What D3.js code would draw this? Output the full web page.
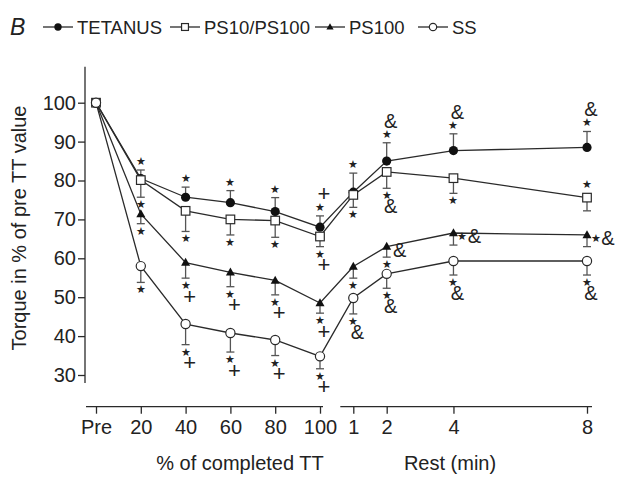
<!DOCTYPE html>
<html>
<head>
<meta charset="utf-8">
<script src="https://cdn.jsdelivr.net/npm/d3@7"></script>
<style>
  body { margin: 0; background: #fff; }
  svg { display: block; }
  text { font-family: "Liberation Sans", Arial, Helvetica, sans-serif; fill: #222; }
</style>
</head>
<body>
<svg id="chart" width="621" height="481"></svg>
<script>
// ---------------- data ----------------
const leftCats = ["Pre", "20", "40", "60", "80", "100"];
const leftVals = [0, 20, 40, 60, 80, 100];
const restCats = ["1", "2", "4", "8"];
const restVals = [1, 2, 4, 8];
const yTicks = [30, 40, 50, 60, 70, 80, 90, 100];

const seriesNames = ["TETANUS", "PS10/PS100", "PS100", "SS"];
const tetanus    = [100, 80.5, 75.7, 74.3, 72.0, 68.0, 77.0, 85.0, 87.7, 88.5];
const tetanusErr = [0, 2.2, 2.6, 3.1, 3.6, 2.9, 4.9, 4.7, 4.3, 4.1];
const ps10ps100    = [100, 80.1, 72.2, 70.0, 69.7, 65.6, 76.3, 82.2, 80.6, 75.6];
const ps10ps100Err = [0, 4.4, 5.3, 4.0, 4.3, 2.6, 3.2, 4.2, 3.9, 3.4];
const ps100    = [100, 71.4, 58.9, 56.4, 54.3, 48.5, 57.9, 63.0, 66.5, 66.0];
const ps100Err = [0, 2.5, 4.0, 3.7, 3.7, 2.6, 3.0, 2.7, 3.1, 3.0];
const ss    = [100, 58.0, 43.1, 40.8, 39.0, 34.8, 49.8, 56.0, 59.3, 59.3];
const ssErr = [0, 4.2, 5.3, 4.9, 4.0, 3.2, 4.1, 3.7, 3.6, 3.6];
const errDir = [1, -1, -1, -1]; // +1 = bar upward, -1 = bar downward

// significance marks: [series index, point index, side, symbols]
const marks = [
  [0,1,"up","*"],[0,2,"up","*"],[0,3,"up","*"],[0,4,"up","*"],[0,5,"up","*+"],
  [0,6,"up","*"],[0,7,"up","*&"],[0,8,"up","*&"],[0,9,"up","*&"],
  [1,1,"down","*"],[1,2,"down","*"],[1,3,"down","*"],[1,4,"down","*"],[1,5,"down","*+"],
  [1,6,"down","*"],[1,7,"down","*&"],[1,8,"down","*"],[1,9,"up","*"],
  [2,1,"down","*"],[2,2,"down","*+"],[2,3,"down","*+"],[2,4,"down","*+"],[2,5,"down","*+"],
  [2,6,"down","*"],[2,7,"down","*"],[2,7,"right","&"],[2,8,"right","*&"],[2,9,"right","*&"],
  [3,1,"down","*"],[3,2,"down","*+"],[3,3,"down","*+"],[3,4,"down","*+"],[3,5,"down","*+"],
  [3,6,"down","*&"],[3,7,"down","*&"],[3,8,"down","*&"],[3,9,"down","*&"]
];

// ---------------- chart ----------------
const svg = d3.select("#chart");
const ink = "#2a2a2a";
const barInk = "#555";

const xLeft = d3.scaleLinear().domain([0, 100]).range([96, 320]);
const xRest = d3.scaleLinear().domain([1, 8]).range([353.3, 587]);
const y = d3.scaleLinear().domain([30, 100]).range([375, 102.7]);

const xPos = i => i < leftVals.length ? xLeft(leftVals[i]) : xRest(restVals[i - leftVals.length]);

const values = [tetanus, ps10ps100, ps100, ss];
const errs = [tetanusErr, ps10ps100Err, ps100Err, ssErr];

// axes
const axisY = 406.7;
const yAx = svg.append("g").attr("transform", "translate(85,0)")
  .call(d3.axisLeft(y).tickValues(yTicks).tickSize(7).tickPadding(2));
yAx.select(".domain").remove();
svg.append("line").attr("x1", 85).attr("x2", 85)
  .attr("y1", y(100) - 36).attr("y2", y(30) + 8)
  .attr("stroke", ink).attr("stroke-width", 1.3);

const xAxL = svg.append("g").attr("transform", `translate(0,${axisY})`)
  .call(d3.axisBottom(xLeft).tickValues(leftVals).tickFormat((d, i) => leftCats[i]).tickSize(7).tickPadding(6));
const xAxR = svg.append("g").attr("transform", `translate(0,${axisY})`)
  .call(d3.axisBottom(xRest).tickValues(restVals).tickFormat((d, i) => restCats[i]).tickSize(7).tickPadding(6));
xAxL.select(".domain").remove();
xAxR.select(".domain").remove();
svg.append("line").attr("x1", xLeft(0) - 10).attr("x2", xLeft(100) + 3)
  .attr("y1", axisY).attr("y2", axisY).attr("stroke", ink).attr("stroke-width", 1.3);
svg.append("line").attr("x1", xRest(1) - 13).attr("x2", xRest(8) + 5)
  .attr("y1", axisY).attr("y2", axisY).attr("stroke", ink).attr("stroke-width", 1.3);

svg.selectAll(".tick line").attr("stroke", ink).attr("stroke-width", 1.3);
svg.selectAll(".tick text").attr("font-size", 20).attr("fill", "#222")
  .attr("font-family", '"Liberation Sans", Arial, sans-serif');

// axis titles
svg.append("text").attr("x", 240).attr("y", 470).attr("text-anchor", "middle")
  .attr("font-size", 20).text("% of completed TT");
svg.append("text").attr("x", 450).attr("y", 470).attr("text-anchor", "middle")
  .attr("font-size", 20).text("Rest (min)");
svg.append("text").attr("transform", "translate(26,228) rotate(-90)").attr("text-anchor", "middle")
  .attr("font-size", 20).text("Torque in % of pre TT value");

// lines
const line = d3.line().x((d, i) => xPos(i)).y(d => y(d));
values.forEach(v => {
  svg.append("path").attr("d", line(v)).attr("fill", "none")
    .attr("stroke", ink).attr("stroke-width", 1.3);
});

// error bars
values.forEach((v, s) => {
  v.forEach((d, i) => {
    const e = errs[s][i];
    if (!e) return;
    const x = xPos(i), y0 = y(d), y1 = y(d + errDir[s] * e);
    svg.append("line").attr("x1", x).attr("x2", x).attr("y1", y0).attr("y2", y1)
      .attr("stroke", barInk).attr("stroke-width", 1.3);
    svg.append("line").attr("x1", x - 4).attr("x2", x + 4).attr("y1", y1).attr("y2", y1)
      .attr("stroke", barInk).attr("stroke-width", 1.3);
  });
});

// markers
function marker(g, s, x, yy, scale) {
  const k = scale || 1;
  if (s === 0) {
    g.append("circle").attr("cx", x).attr("cy", yy).attr("r", 4.6 * k).attr("fill", "#111");
  } else if (s === 1) {
    g.append("rect").attr("x", x - 4.3 * k).attr("y", yy - 4.3 * k)
      .attr("width", 8.6 * k).attr("height", 8.6 * k)
      .attr("fill", "#fff").attr("stroke", ink).attr("stroke-width", 1.2);
  } else if (s === 2) {
    const h = 8 * k, w = 9 * k;
    g.append("path").attr("d", `M${x},${yy - h * 0.6}L${x + w / 2},${yy + h * 0.4}L${x - w / 2},${yy + h * 0.4}Z`)
      .attr("fill", "#111");
  } else {
    g.append("circle").attr("cx", x).attr("cy", yy).attr("r", 4.6 * k)
      .attr("fill", "#fff").attr("stroke", ink).attr("stroke-width", 1.2);
  }
}
const mg = svg.append("g");
values.forEach((v, s) => v.forEach((d, i) => marker(mg, s, xPos(i), y(d))));

// significance marks
function drawSym(ch, cx, cy) {
  if (ch === "*") {
    svg.append("text").attr("x", cx).attr("y", cy).attr("text-anchor", "middle")
      .attr("dominant-baseline", "central").attr("font-family", '"DejaVu Sans", sans-serif')
      .attr("font-size", 10.5).text("★");
  } else {
    svg.append("text").attr("x", cx).attr("y", cy).attr("text-anchor", "middle")
      .attr("dominant-baseline", "central").attr("font-size", ch === "+" ? 22 : 20).text(ch);
  }
}
marks.forEach(([s, i, side, syms]) => {
  const x = xPos(i);
  const v = values[s][i];
  const e = errs[s][i];
  const chars = Array.from(syms);
  if (side === "right") {
    const cy = y(v) + 3;
    let cx = x + 9;
    chars.forEach(ch => {
      if (ch === "*") { drawSym(ch, cx, cy); cx += 12; }
      else { drawSym(ch, cx + (chars.length === 1 ? 4 : 0), cy); cx += 12; }
    });
    return;
  }
  if (side === "up") {
    const top = errDir[s] > 0 ? y(v + e) : y(v) - 5;
    let cy = top - 9;
    chars.forEach(ch => { drawSym(ch, ch === "*" ? x : x + 4, cy); cy -= 13; });
  } else {
    const bot = errDir[s] < 0 ? y(v - e) : y(v) + 5;
    let cy = bot + 7;
    chars.forEach(ch => { drawSym(ch, ch === "*" ? x : x + 4, cy); cy += 11; });
  }
});

// legend
svg.append("text").attr("x", 10).attr("y", 35).attr("font-size", 23)
  .attr("font-style", "italic").text("B");
const legendX = [43, 170, 315, 418];
seriesNames.forEach((name, s) => {
  const lx = legendX[s], ly = 27;
  svg.append("line").attr("x1", lx).attr("x2", lx + 30).attr("y1", ly).attr("y2", ly)
    .attr("stroke", ink).attr("stroke-width", 1.3);
  marker(svg, s, lx + 15, ly, 0.8);
  svg.append("text").attr("x", lx + 34).attr("y", ly + 7).attr("font-size", 18.5).text(name);
});
</script>
</body>
</html>
